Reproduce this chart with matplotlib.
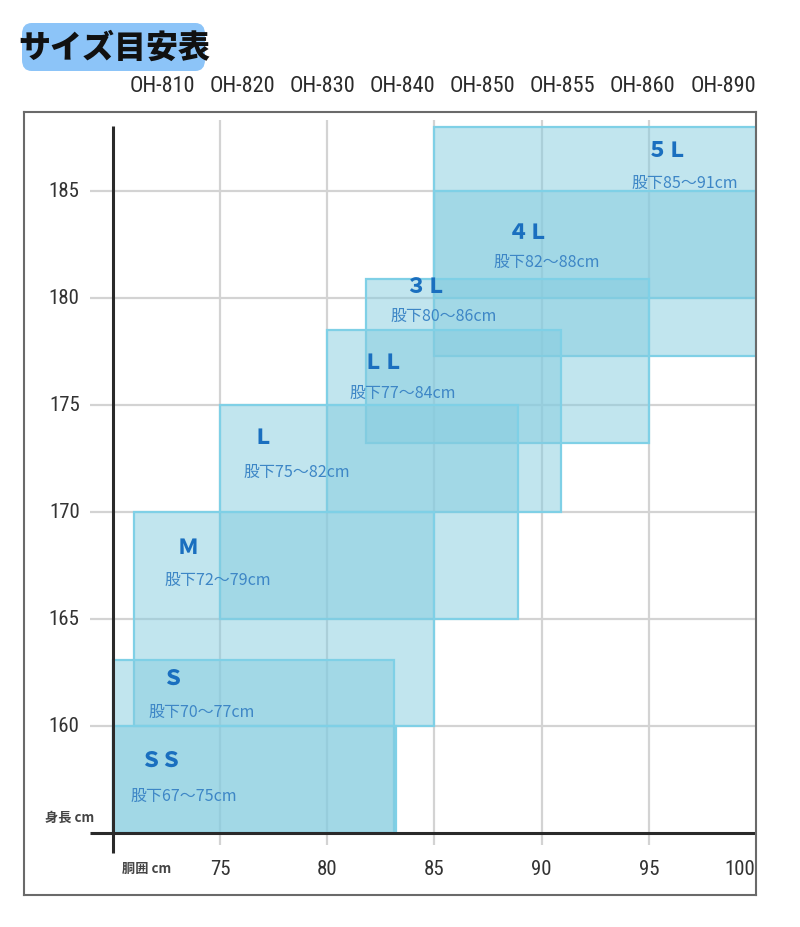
import matplotlib
matplotlib.use("Agg")
import matplotlib.pyplot as plt
from matplotlib.patches import Rectangle, FancyBboxPatch
from matplotlib.colors import to_rgba
from matplotlib import font_manager as fm

# ---------------- data ----------------
sizes = ["５Ｌ", "４Ｌ", "３Ｌ", "ＬＬ", "Ｌ", "Ｍ", "Ｓ", "ＳＳ"]
waist_min = [85.0, 85.0, 81.8, 80.0, 75.0, 71.0, 70.0, 70.0]
waist_max = [100.0, 100.0, 95.0, 90.9, 88.9, 85.0, 83.1, 83.2]
height_min = [180.0, 177.3, 173.2, 170.0, 165.0, 160.0, 155.0, 155.0]
height_max = [188.0, 185.0, 180.9, 178.5, 175.0, 170.0, 163.1, 160.0]
inseam = ["股下85～91cm", "股下82～88cm", "股下80～86cm", "股下77～84cm",
          "股下75～82cm", "股下72～79cm", "股下70～77cm", "股下67～75cm"]
models = ["OH-810", "OH-820", "OH-830", "OH-840", "OH-850", "OH-855", "OH-860", "OH-890"]
x_ticks = [75, 80, 85, 90, 95, 100]
y_ticks = [160, 165, 170, 175, 180, 185]
title = "サイズ目安表"
x_label = "胴囲 cm"
y_label = "身長 cm"

# label layout (data coords): size-name position, inseam-text position
name_xy = [(95.9, 186.9), (89.4, 183.1), (84.6, 180.55), (82.6, 177.0),
           (77.0, 173.5), (73.5, 168.35), (72.8, 162.25), (72.25, 158.4)]
inseam_xy = [(96.7, 185.4), (90.25, 181.7), (85.45, 179.2), (83.5, 175.6),
             (78.6, 171.9), (74.9, 166.85), (74.15, 160.7), (73.3, 156.75)]

CJK = ["Noto Sans CJK JP", "DejaVu Sans"]

# pick a condensed font if one is installed
narrow_kw = {"family": ["Roboto", "DejaVu Sans"]}
narrow_scale = 0.92
try:
    p = fm.findfont(fm.FontProperties(family="DejaVu Sans", stretch="condensed"),
                    fallback_to_default=False)
    if "Condensed" in p:
        narrow_kw = {"family": ["DejaVu Sans"], "fontstretch": "condensed"}
        narrow_scale = 0.95
except Exception:
    pass
names = {f.name for f in fm.fontManager.ttflist}
for cand in ["Liberation Sans Narrow", "Roboto Condensed", "Open Sans Condensed"]:
    if cand in names:
        narrow_kw = {"family": [cand, "DejaVu Sans"]}
        narrow_scale = 1.0
        break

fig = plt.figure(figsize=(8.0, 9.28), dpi=100)
W, H = 800, 928
ax = fig.add_axes([24 / W, 1 - 896 / H, 732 / W, 783 / H])
ax.set_xlim(65.85, 100.0)
ax.set_ylim(152.10, 188.69)
ax.set_xticks([])
ax.set_yticks([])
for s in ax.spines.values():
    s.set_color("#6a6a6a")
    s.set_linewidth(1.5)
    s.set_zorder(7)

grid_c = "#d3d3d3"
ax.vlines(x_ticks[:-1], 154.45, 188.3, color=grid_c, lw=1.6, zorder=1)
ax.hlines(y_ticks, 68.92, 100.0, color=grid_c, lw=1.6, zorder=1)

# rectangles
face = to_rgba("#84ccdf", 0.5)
edge = "#7fd0e6"
for i in range(len(sizes)):
    r = Rectangle((waist_min[i], height_min[i]), waist_max[i] - waist_min[i],
                  height_max[i] - height_min[i], facecolor=face,
                  edgecolor=edge, lw=1.6, zorder=2)
    ax.add_patch(r)

# axis lines
ax.plot([70, 70], [154.07, 188.05], color="#2a2a2a", lw=2.2, zorder=4,
        solid_capstyle="butt")
ax.plot([68.92, 100.0], [155.0, 155.0], color="#2a2a2a", lw=2.2, zorder=4,
        solid_capstyle="butt")

# tick labels
for v in x_ticks:
    last = v == x_ticks[-1]
    ax.text(v - (0.05 if last else 0), 153.36, str(v),
            ha="right" if last else "center", va="center",
            fontsize=15 * narrow_scale, color="#333333", zorder=5, **narrow_kw)
for v in y_ticks:
    ax.text(68.45, v, str(v), ha="right", va="center",
            fontsize=15 * narrow_scale, color="#333333", zorder=5, **narrow_kw)
ax.text(70.4, 153.36, x_label, ha="left", va="center", fontsize=9.5,
        family=CJK, color="#444444", fontweight="bold", zorder=5)
ax.text(69.15, 155.75, y_label, ha="right", va="center", fontsize=9.5,
        family=CJK, color="#444444", fontweight="bold", zorder=5)

# size labels
for i in range(len(sizes)):
    ax.text(*name_xy[i], sizes[i], ha="center", va="center", fontsize=15,
            family=CJK, fontweight="heavy", color="#1a6fbf", zorder=6)
    ax.text(*inseam_xy[i], inseam[i], ha="center", va="center", fontsize=11.5,
            family=CJK, color="#3d86c6", zorder=6)

# model labels across the top
for k, m in enumerate(models):
    fig.text((162 + 80.15 * k) / W, 1 - 86 / H, m, ha="center", va="center",
             fontsize=16 * narrow_scale, color="#2a2a2a", **narrow_kw)

# title badge
badge = FancyBboxPatch((22 / W, 1 - 72 / H), 183 / W, 48 / H,
                       boxstyle="round,pad=0,rounding_size=0.012",
                       transform=fig.transFigure, facecolor="#8cc4f8",
                       edgecolor="none")
fig.patches.append(badge)
fig.text(114 / W, 1 - 48 / H, title, ha="center", va="center", fontsize=23,
         family=CJK, fontweight="black", color="#111111")

fig.savefig("out.png", dpi=100, facecolor="white")
